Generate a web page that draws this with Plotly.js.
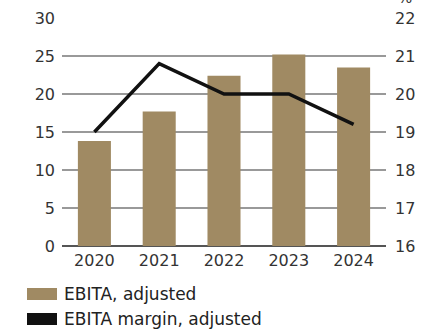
<!DOCTYPE html>
<html>
<head>
<meta charset="utf-8">
<script src="https://cdn.plot.ly/plotly-3.0.1.min.js"></script>
<style>html,body{margin:0;padding:0;background:#fff;}#chart{width:445px;height:330px;}</style>
</head>
<body>
<div id="chart"></div>
<script>
const years = ["2020", "2021", "2022", "2023", "2024"];
const ebitaAdjusted = [13.8, 17.7, 22.4, 25.2, 23.5];
const ebitaMargin = [19.0, 20.8, 20.0, 20.0, 19.2];
const leftTicks = [0, 5, 10, 15, 20, 25, 30];
const rightTicks = [16, 17, 18, 19, 20, 21, 22];
const seriesNames = ["EBITA, adjusted", "EBITA margin, adjusted"];
const barColor = "#a08a63";
const lineColor = "#111111";
const fontFam = "DejaVu Sans, sans-serif";

const traces = [
  {type: "bar", x: years, y: ebitaAdjusted, name: seriesNames[0], marker: {color: barColor}, width: 0.51, yaxis: "y", hoverinfo: "skip"},
  {type: "scatter", mode: "lines", x: years, y: ebitaMargin, name: seriesNames[1], line: {color: lineColor, width: 3.5}, yaxis: "y2", hoverinfo: "skip"}
];

const layout = {
  width: 445, height: 330,
  margin: {l: 62, r: 59, t: 18, b: 84, pad: 0},
  paper_bgcolor: "#fff", plot_bgcolor: "rgba(0,0,0,0)",
  showlegend: false,
  font: {family: fontFam, size: 16, color: "#333"},
  xaxis: {type: "category", range: [-0.5, 4.5], showgrid: false, showline: false, zeroline: false, ticks: "", tickfont: {size: 16, color: "#333"}, ticklabelstandoff: 3},
  yaxis: {range: [0, 30], tickmode: "array", tickvals: leftTicks, showgrid: true, gridcolor: "#999999", gridwidth: 1.3, zeroline: true, zerolinecolor: "#555555", zerolinewidth: 1.5, showline: false, ticks: "", ticklabelstandoff: 6, tickfont: {size: 16, color: "#333"}, layer: "below traces"},
  yaxis2: {range: [16, 22], tickmode: "array", tickvals: rightTicks, overlaying: "y", side: "right", showgrid: false, zeroline: false, showline: false, ticks: "", ticklabelstandoff: 8, tickfont: {size: 16, color: "#333"}},
  shapes: [
    {type: "rect", xref: "paper", yref: "paper", x0: -35/324, x1: -5/324, y0: -54/228, y1: -42/228, fillcolor: barColor, line: {width: 0}},
    {type: "rect", xref: "paper", yref: "paper", x0: -35/324, x1: -5/324, y0: -79/228, y1: -67/228, fillcolor: lineColor, line: {width: 0}}
  ],
  annotations: [
    {xref: "paper", yref: "paper", x: 0, y: -48/228, xanchor: "left", yanchor: "middle", text: seriesNames[0], showarrow: false, font: {size: 17, color: "#222"}},
    {xref: "paper", yref: "paper", x: 0, y: -73/228, xanchor: "left", yanchor: "middle", text: seriesNames[1], showarrow: false, font: {size: 17, color: "#222"}},
    {xref: "paper", yref: "paper", x: 1, xshift: 10, y: 1, yshift: 9, xanchor: "left", yanchor: "bottom", text: "%", showarrow: false, font: {size: 15, color: "#333"}}
  ]
};

Plotly.newPlot("chart", traces, layout, {displayModeBar: false, staticPlot: true});
</script>
</body>
</html>
